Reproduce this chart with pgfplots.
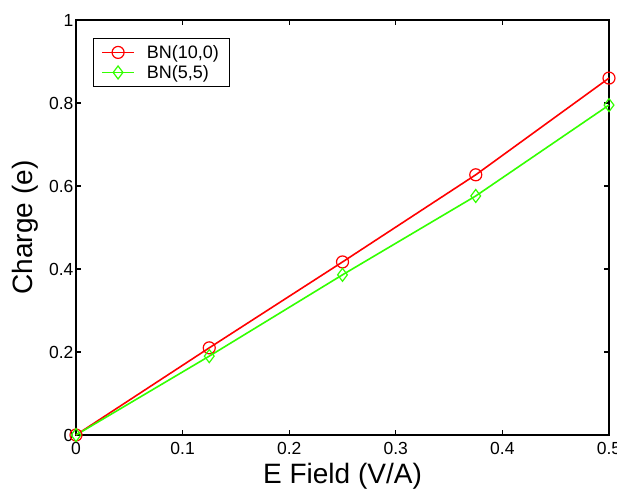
\documentclass[border=0pt]{standalone}
\usepackage{pgfplots}
\pgfplotsset{compat=1.18}
\usepackage{fontspec}
\setmainfont{Liberation Sans}
\definecolor{mgreen}{rgb}{0.2,1,0}
\begin{document}
\begin{tikzpicture}
\begin{axis}[
  scale only axis,
  width=533pt, height=415pt,
  xmin=0, xmax=0.5, ymin=0, ymax=1,
  xtick={0,0.1,0.2,0.3,0.4,0.5},
  ytick={0,0.2,0.4,0.6,0.8,1},
  xticklabels={0,0.1,0.2,0.3,0.4,0.5},
  yticklabels={0,0.2,0.4,0.6,0.8,1},
  tick align=inside,
  tick style={black, line width=1.2pt},
  major tick length=5pt,
  axis line style={line width=1.4pt},
  ticklabel style={font=\fontsize{17.5}{20}\selectfont},
  xticklabel style={yshift=-4pt},
  yticklabel style={xshift=1pt},
  xlabel={E Field (V/A)},
  ylabel={Charge (e)},
  label style={font=\fontsize{28}{32}\selectfont},
  xlabel style={at={(axis description cs:0.5,0)}, anchor=base, yshift=-48pt},
  ylabel style={at={(axis description cs:-0.0807,0.5)}, anchor=base},
  legend style={at={(0.032,0.957)}, anchor=north west, draw=black, line width=0.6pt, font=\fontsize{18}{20}\selectfont, inner xsep=8pt, inner ysep=5pt, row sep=1.5pt,
    /tikz/every odd column/.append style={column sep=10pt}},
  legend cell align=left,
  legend image code/.code={\draw[mark repeat=2,mark phase=2] plot coordinates {(0cm,0cm)(0.56cm,0cm)(1.12cm,0cm)};},
  clip=false,
]
\addplot[red, line width=1.6pt, mark=o, mark size=6pt, mark options={line width=1.2pt}] coordinates {
(0,0) (0.125,0.21) (0.25,0.417) (0.375,0.627) (0.5,0.86)
};
\addlegendentry{BN(10,0)}
\addplot[mgreen, line width=1.6pt, mark=diamond, mark size=6.5pt, mark options={line width=1.2pt}] coordinates {
(0,0) (0.125,0.19) (0.25,0.386) (0.375,0.576) (0.5,0.795)
};
\addlegendentry{BN(5,5)}
\end{axis}
\pgfresetboundingbox
\path[use as bounding box] ([shift={(-76pt,-53pt)}]current axis.south west) rectangle ([shift={(8pt,20pt)}]current axis.north east);
\end{tikzpicture}
\end{document}
